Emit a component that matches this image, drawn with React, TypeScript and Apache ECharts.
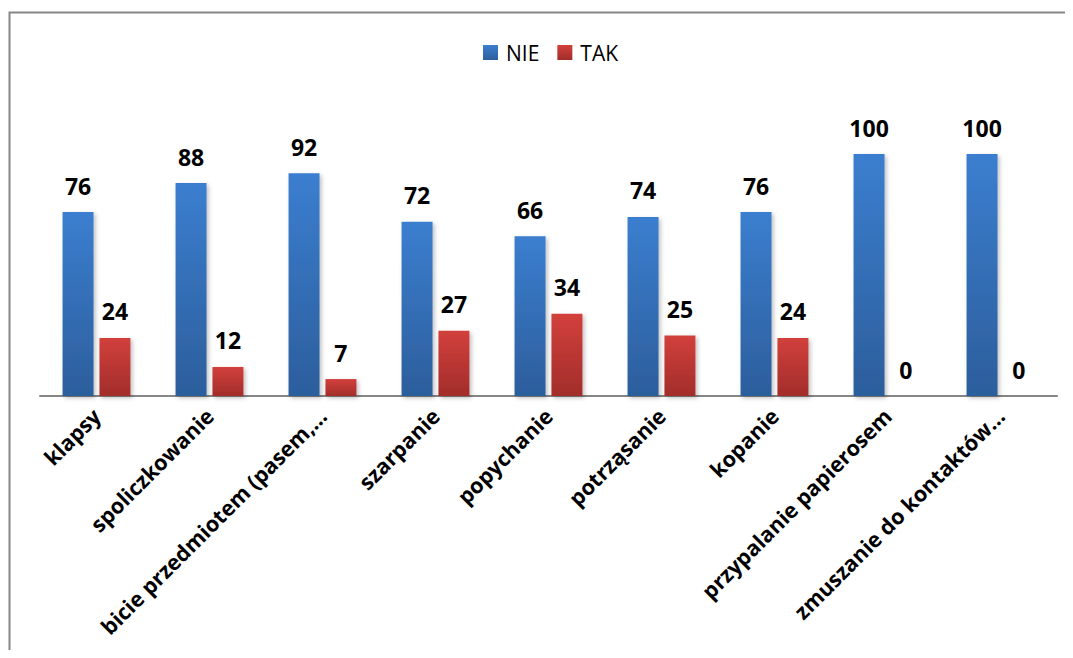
import React, { useEffect, useRef } from "react";
import * as echarts from "echarts";

const categories = [
  "klapsy",
  "spoliczkowanie",
  "bicie przedmiotem (pasem,…",
  "szarpanie",
  "popychanie",
  "potrząsanie",
  "kopanie",
  "przypalanie papierosem",
  "zmuszanie do kontaktów…",
];
const nieValues = [76, 88, 92, 72, 66, 74, 76, 100, 100];
const takValues = [24, 12, 7, 27, 34, 25, 24, 0, 0];

const FONT = "'Open Sans', sans-serif";

export default function App() {
  const ref = useRef<HTMLDivElement>(null);
  useEffect(() => {
    if (!ref.current) return;
    const chart = echarts.init(ref.current, undefined, { renderer: "svg" });
    const blue = new echarts.graphic.LinearGradient(0, 0, 0, 1, [
      { offset: 0, color: "#3b7ecf" },
      { offset: 1, color: "#2c5e9c" },
    ]);
    const red = new echarts.graphic.LinearGradient(0, 0, 0, 1, [
      { offset: 0, color: "#d2403c" },
      { offset: 1, color: "#a22d2a" },
    ]);
    const labelStyle = {
      show: true,
      position: "top" as const,
      distance: 15,
      fontFamily: FONT,
      fontWeight: "bold" as const,
      fontSize: 23,
      color: "#000",
    };
    chart.setOption({
      animation: false,
      backgroundColor: "#fff",
      textStyle: { fontFamily: FONT },
      graphic: [
        {
          type: "rect",
          shape: { x: 9.5, y: 12.5, width: 1200, height: 800 },
          style: { fill: "none", stroke: "#868686", lineWidth: 2 },
          silent: true,
        },
      ],
      legend: {
        top: 37,
        left: 478,
        itemWidth: 15,
        itemHeight: 15,
        itemGap: 18,
        icon: "rect",
        textStyle: { fontFamily: FONT, fontSize: 21, color: "#000", padding: [0, 0, 0, 3] },
        data: ["NIE", "TAK"],
      },
      grid: { left: 40, right: 16, top: 154, bottom: 262, containLabel: false },
      xAxis: {
        type: "category",
        data: categories,
        axisLine: { show: true, lineStyle: { color: "#868686", width: 2 } },
        axisTick: { show: false },
        axisLabel: {
          rotate: 45,
          interval: 0,
          margin: 16,
          fontFamily: FONT,
          fontWeight: "bold",
          fontSize: 21.5,
          color: "#000",
        },
      },
      yAxis: {
        type: "value",
        min: 0,
        max: 100,
        show: false,
        splitLine: { show: false },
      },
      series: [
        {
          name: "NIE",
          type: "bar",
          data: nieValues,
          barWidth: 31,
          barGap: "19%",
          itemStyle: {
            color: blue,
            shadowColor: "rgba(0,0,0,0.25)",
            shadowBlur: 4,
            shadowOffsetX: 2,
            shadowOffsetY: 2,
          },
          label: labelStyle,
        },
        {
          name: "TAK",
          type: "bar",
          data: takValues,
          barWidth: 31,
          itemStyle: {
            color: red,
            shadowColor: "rgba(0,0,0,0.25)",
            shadowBlur: 4,
            shadowOffsetX: 2,
            shadowOffsetY: 2,
          },
          label: labelStyle,
        },
      ],
    });
    return () => chart.dispose();
  }, []);
  return <div ref={ref} style={{ width: 1073, height: 658, margin: -8 }} />;
}
